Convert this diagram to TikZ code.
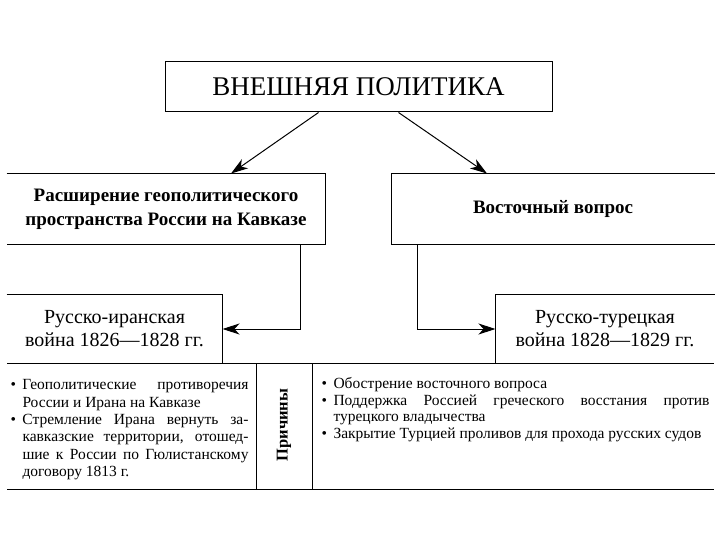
\documentclass[tikz,border=0pt]{standalone}
\usepackage{fontspec}
\setmainfont{Liberation Serif}
\usetikzlibrary{arrows.meta}

\newcommand{\punkt}{\hangindent=12pt\hangafter=1\noindent\makebox[12pt][l]{\textbullet}}

\begin{document}
\begin{tikzpicture}[x=1pt, y=-1pt, line width=1pt,
  box/.style={inner sep=0pt, align=center},
  cell/.style={inner sep=0pt, anchor=north west, align=justify, font=\fontsize{15.5}{17.4}\selectfont},
  arr/.style={-{Stealth[length=17pt,width=11pt,inset=5pt]}}]
  \useasboundingbox (0,0) rectangle (720,540);
  % заголовок
  \node[box, draw, minimum width=387pt, minimum height=50pt, font=\fontsize{27}{30}\selectfont] (top) at (358.5,87) {ВНЕШНЯЯ ПОЛИТИКА};
  % направления
  \node[box, minimum width=318pt, minimum height=70pt, font=\bfseries\fontsize{19}{24}\selectfont] (kavkaz) at (166,209) {Расширение геополитического\\пространства России на Кавказе};
  \draw (kavkaz.north west) -- (kavkaz.north east) -- (kavkaz.south east) -- (kavkaz.south west);
  \node[box, minimum width=322pt, minimum height=70pt, font=\bfseries\fontsize{19}{24}\selectfont] (vostok) at (553,209) {Восточный вопрос};
  \draw (vostok.north east) -- (vostok.north west) -- (vostok.south west) -- (vostok.south east);
  % войны
  \node[box, minimum width=215pt, minimum height=68pt, font=\fontsize{20}{23}\selectfont] (iran) at (114.5,329) {Русско-иранская\\война 1826—1828 гг.};
  \draw (iran.north west) -- (iran.north east) -- (iran.south east);
  \node[box, minimum width=218pt, minimum height=68pt, font=\fontsize{20}{23}\selectfont] (turk) at (605,329) {Русско-турецкая\\война 1828—1829 гг.};
  \draw (turk.north east) -- (turk.north west) -- (turk.south west);
  % стрелки
  \draw[arr] ([xshift=-40pt]top.south) -- ([xshift=65pt]kavkaz.north);
  \draw[arr] ([xshift=40pt]top.south) -- ([xshift=-66pt]vostok.north);
  \draw[arr] ([xshift=134pt]kavkaz.south) |- (iran.east);
  \draw[arr] ([xshift=-136pt]vostok.south) |- (turk.west);
  % таблица причин
  \draw (7,363) -- (714,363);
  \draw (7,489) -- (714,489);
  \draw (256,363) -- (256,489);
  \draw (312,363) -- (312,489);
  \node[cell, text width=238pt] (iranprich) at (10,379) {\hyphenpenalty=10000
    \punkt Геополитические противоречия\linebreak России и Ирана на Кавказе\par
    \punkt Стремление Ирана вернуть за-\linebreak кавказские территории, отошед-\linebreak шие к России по Гюлистанскому\linebreak договору 1813 г.\par};
  \node[rotate=90, font=\bfseries\fontsize{16.5}{18}\selectfont] (prichiny) at (284,425) {Причины};
  \node[cell, text width=388pt, font=\fontsize{15.5}{16.5}\selectfont] (turkprich) at (321,377) {\hyphenpenalty=10000
    \punkt Обострение восточного вопроса\par
    \punkt Поддержка Россией греческого восстания против\linebreak турецкого владычества\par
    \punkt Закрытие Турцией проливов для прохода русских судов\par};
\end{tikzpicture}
\end{document}
